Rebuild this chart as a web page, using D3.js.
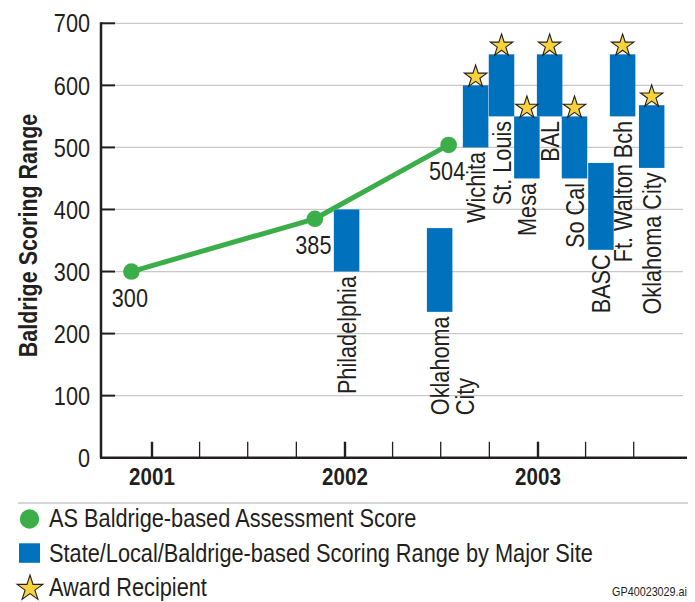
<!DOCTYPE html>
<html>
<head>
<meta charset="utf-8">
<script src="https://cdn.jsdelivr.net/npm/d3@7"></script>
<style>
  html, body { margin: 0; padding: 0; background: #fff; }
  svg { display: block; }
  text { font-family: "Liberation Sans", Arial, Helvetica, sans-serif; fill: #231f20; }
</style>
</head>
<body>
<svg id="chart" width="695" height="602"></svg>
<script>
// ---- data ----
const yTicks = [0, 100, 200, 300, 400, 500, 600, 700];
const yearLabels = ["2001", "2002", "2003"];

// AS Baldrige-based assessment score, by assessment date
const assessDates = ["2000-11-23", "2001-11-05", "2002-07-16"];
const assessScores = [300, 385, 504];

// State/local/Baldrige-based scoring range by major site
const siteLines = [["Philadelphia"], ["Oklahoma", "City"], ["Wichita"], ["St. Louis"], ["Mesa"],
                   ["BAL"], ["So Cal"], ["BASC"], ["Ft. Walton Bch"], ["Oklahoma City"]];
const siteDates = ["2002-01-04", "2002-06-29", "2002-09-05", "2002-10-24", "2002-12-11",
                   "2003-01-23", "2003-03-11", "2003-04-30", "2003-06-10", "2003-08-04"];
const siteLow  = [300, 235, 500, 550, 450, 550, 450, 335, 550, 467];
const siteHigh = [400, 370, 600, 650, 550, 650, 550, 475, 650, 568];
const siteAward = [false, false, true, true, true, true, true, false, true, true];

const legendItems = ["AS Baldrige-based Assessment Score",
                     "State/Local/Baldrige-based Scoring Range by Major Site",
                     "Award Recipient"];
const fileTag = "GP40023029.ai";

// ---- styling ----
const GREEN = "#3cae49", BLUE = "#0071bc", STAR = "#f7d23a", INK = "#231f20", GRID = "#c9c9c9";
const SX = 0.85;          // horizontal compression for the condensed type
const FS = 25.5;          // main font size
const barW = 25.5;

const parse = d3.timeParse("%Y-%m-%d");
const svg = d3.select("#chart");

const x = d3.scaleTime()
  .domain([new Date(2001, 0, 1), new Date(2003, 0, 1)])
  .range([152, 538]);
const y = d3.scaleLinear().domain([0, 700]).range([457.7, 23.3]);

const xLeft = 101, xRight = 687, gridRight = 683;

// condensed text helper
function ctext(parent, px, py, str, o = {}) {
  const g = parent.append("g")
    .attr("transform", `translate(${px},${py})${o.rotate ? " rotate(-90)" : ""} scale(${o.sx || SX},1)`);
  const t = g.append("text")
    .attr("text-anchor", o.anchor || "start")
    .attr("font-size", o.size || FS)
    .attr("font-weight", o.bold ? "bold" : "normal")
    .attr("dy", o.dy || 0)
    .text(str);
  return { g, t };
}

// ---- grid ----
svg.append("g").selectAll("line").data(yTicks.filter(d => d > 0)).join("line")
  .attr("x1", xLeft).attr("x2", gridRight)
  .attr("y1", d => y(d)).attr("y2", d => y(d))
  .attr("stroke", GRID).attr("stroke-width", 1.3);

// ---- y axis ----
const yAxis = svg.append("g");
yAxis.selectAll("line.tick").data(yTicks.filter(d => d > 0)).join("line")
  .attr("class", "tick")
  .attr("x1", xLeft).attr("x2", xLeft + 14)
  .attr("y1", d => y(d)).attr("y2", d => y(d))
  .attr("stroke", INK).attr("stroke-width", 2);
yTicks.forEach(d => ctext(yAxis, 90, y(d), String(d), { anchor: "end", dy: "0.36em" }));
yAxis.append("line")
  .attr("x1", xLeft).attr("x2", xLeft)
  .attr("y1", y(700) - 1).attr("y2", y(0))
  .attr("stroke", INK).attr("stroke-width", 2.5);

ctext(svg, 37, 235.5, "Baldrige Scoring Range",
      { rotate: true, anchor: "middle", bold: true, size: 25, sx: 0.86 });

// ---- x axis ----
const xAxis = svg.append("g");
const qTicks = d3.timeMonths(new Date(2001, 0, 1), new Date(2003, 7, 1), 3);
xAxis.selectAll("line").data(qTicks).join("line")
  .attr("x1", d => x(d)).attr("x2", d => x(d))
  .attr("y1", y(0) - 16).attr("y2", y(0))
  .attr("stroke", INK)
  .attr("stroke-width", d => d.getMonth() === 0 ? 2.4 : 1.3);
xAxis.append("line")
  .attr("x1", xLeft - 1).attr("x2", xRight)
  .attr("y1", y(0)).attr("y2", y(0))
  .attr("stroke", INK).attr("stroke-width", 2.4);
yearLabels.forEach(s => ctext(xAxis, x(new Date(+s, 0, 1)), 485, s,
  { anchor: "middle", bold: true, size: 24.5, sx: 0.84 }));

// ---- site bars ----
const sites = siteDates.map((d, i) => ({
  date: parse(d), low: siteLow[i], high: siteHigh[i], award: siteAward[i], lines: siteLines[i]
}));

svg.append("g").selectAll("rect").data(sites).join("rect")
  .attr("x", d => x(d.date) - barW / 2)
  .attr("width", barW)
  .attr("y", d => y(d.high))
  .attr("height", d => y(d.low) - y(d.high))
  .attr("fill", BLUE);

// site names, rotated, beneath each bar
const labelG = svg.append("g");
sites.forEach(d => {
  const { g, t } = ctext(labelG, x(d.date), y(d.low) + 4.5, d.lines[0],
                         { rotate: true, anchor: "end", dy: "0.36em" });
  if (d.lines.length > 1) {
    const L = t.node().getComputedTextLength();
    d.lines.slice(1).forEach((ln, k) => {
      g.append("text")
        .attr("x", -L).attr("y", 25 * (k + 1))
        .attr("dy", "0.36em")
        .attr("font-size", FS)
        .attr("text-anchor", "start")
        .text(ln);
    });
  }
});

// award stars on top of recipient bars
const starR = 11.8;
const starPath = d3.symbol(d3.symbolStar, starR * starR / 0.8908130915292852)();
svg.append("g").selectAll("path").data(sites.filter(d => d.award)).join("path")
  .attr("d", starPath)
  .attr("transform", d => `translate(${x(d.date)},${y(d.high) - starR * Math.cos(Math.PI / 5) + 1})`)
  .attr("fill", STAR).attr("stroke", INK).attr("stroke-width", 1.1)
  .attr("stroke-linejoin", "miter");

// ---- assessment score line ----
const pts = assessDates.map((d, i) => ({ date: parse(d), v: assessScores[i] }));
svg.append("path").datum(pts)
  .attr("d", d3.line().x(d => x(d.date)).y(d => y(d.v)))
  .attr("fill", "none").attr("stroke", GREEN).attr("stroke-width", 5)
  .attr("stroke-linejoin", "round");
svg.append("g").selectAll("circle").data(pts).join("circle")
  .attr("cx", d => x(d.date)).attr("cy", d => y(d.v)).attr("r", 8.3)
  .attr("fill", GREEN);
pts.forEach(d => ctext(svg, x(d.date) - 1.5, y(d.v) + 35, String(d.v), { anchor: "middle" }));

// ---- legend ----
const leg = svg.append("g");
leg.append("line").attr("x1", 18).attr("x2", 688).attr("y1", 503).attr("y2", 503)
  .attr("stroke", GRID).attr("stroke-width", 1.5);
leg.append("circle").attr("cx", 29.5).attr("cy", 519).attr("r", 9.7).attr("fill", GREEN);
leg.append("rect").attr("x", 19).attr("y", 543.3).attr("width", 21).attr("height", 19.5).attr("fill", BLUE);
const legStarR = 13.5;
leg.append("path")
  .attr("d", d3.symbol(d3.symbolStar, legStarR * legStarR / 0.8908130915292852)())
  .attr("transform", `translate(30,${575 + legStarR})`)
  .attr("fill", STAR).attr("stroke", INK).attr("stroke-width", 1.1);
const legBase = [527, 562, 596];
legendItems.forEach((s, i) => ctext(leg, 49, legBase[i], s, { size: 25, sx: 0.87 }));

ctext(svg, 687, 596, fileTag, { anchor: "end", size: 13, sx: 0.83 });
</script>
</body>
</html>
